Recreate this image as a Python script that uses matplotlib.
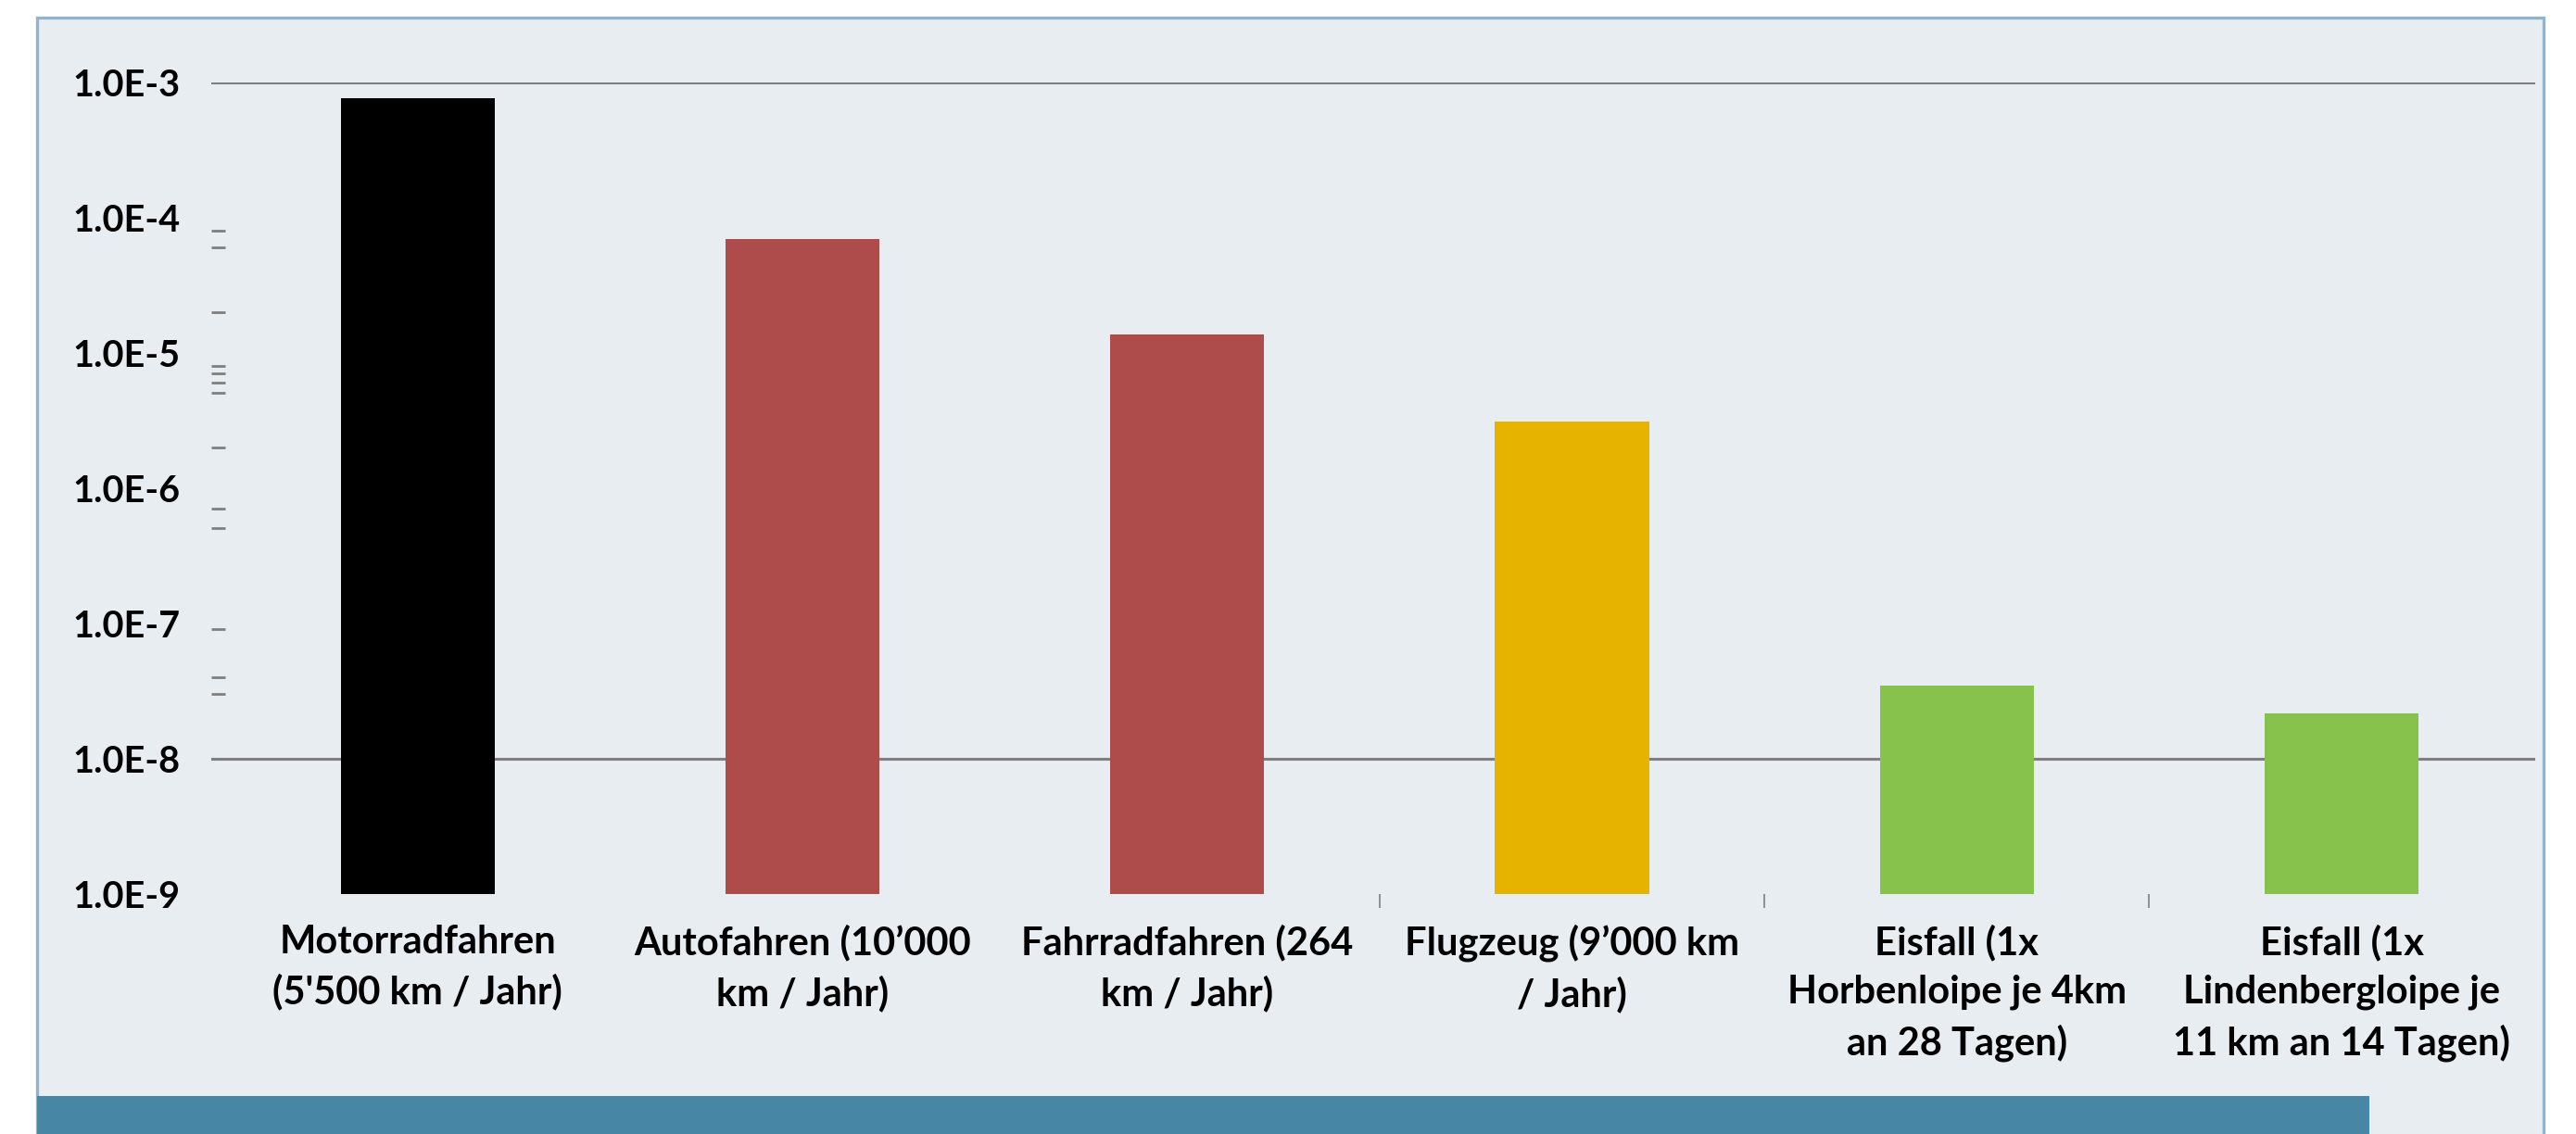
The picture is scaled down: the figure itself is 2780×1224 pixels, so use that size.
import math
import matplotlib
matplotlib.use("Agg")
import matplotlib.pyplot as plt
import matplotlib.ticker as mticker
from matplotlib.patches import Rectangle

plt.rcParams['font.family'] = ['Lato', 'DejaVu Sans']
plt.rcParams['font.weight'] = 'bold'

# Todesrisiko pro Person und Jahr
categories = [
    "Motorradfahren\n(5'500 km / Jahr)",
    "Autofahren (10\u2019000\nkm / Jahr)",
    "Fahrradfahren (264\nkm / Jahr)",
    "Flugzeug (9\u2019000 km\n/ Jahr)",
    "Eisfall (1x\nHorbenloipe je 4km\nan 28 Tagen)",
    "Eisfall (1x\nLindenbergloipe je\n11 km an 14 Tagen)",
]
risk = [7.6e-4, 6.9e-5, 1.36e-5, 3.09e-6, 3.45e-8, 2.15e-8]
bar_colors = ['#000000', '#AE4B4B', '#AE4B4B', '#E6B400', '#86C24C', '#86C24C']

y_major = [1e-9, 1e-8, 1e-7, 1e-6, 1e-5, 1e-4, 1e-3]
y_minor = [8e-5, 6e-5, 2e-5, 8e-6, 7e-6, 6e-6, 5e-6, 2e-6, 7e-7, 5e-7,
           9e-8, 4e-8, 3e-8]
grid_at = [1e-3, 1e-8]
x_minor = [2.5, 3.5, 4.5]

W, H = 2780, 1224
fig = plt.figure(figsize=(W / 100, H / 100), dpi=100)
fig.patch.set_facecolor('white')

# Hintergrund mit Rahmen
fig.patches.append(Rectangle((40 / W, -0.05), (2745 - 40) / W, (H - 19) / H + 0.05,
                             transform=fig.transFigure, facecolor='#E8EDF2',
                             edgecolor='#94B3CB', linewidth=2.4, zorder=-2))
# blaues Band unten
fig.patches.append(Rectangle((40 / W, 0), (2557 - 40) / W, (H - 1183) / H,
                             transform=fig.transFigure, facecolor='#4786A4',
                             edgecolor='none', zorder=-1))

left, right, top, bottom = 228, 2736, 88.5, 964.5
ax = fig.add_axes([left / W, 1 - bottom / H, (right - left) / W, (bottom - top) / H])
ax.set_facecolor('none')
ax.set_zorder(1)

x = list(range(len(categories)))
for g in grid_at:
    ax.axhline(g, color='#7F7F7F', linewidth=2.2, zorder=1)
ax.bar(x, risk, width=0.40, color=bar_colors, zorder=2)

ax.set_yscale('log')
ax.set_ylim(1e-9, 1e-3)
ax.set_xlim(-0.536, 5.503)

ax.yaxis.set_major_locator(mticker.FixedLocator(y_major))
ax.yaxis.set_major_formatter(mticker.FuncFormatter(
    lambda v, p: "1.0E%d" % round(math.log10(v))))
ax.yaxis.set_minor_locator(mticker.FixedLocator(y_minor))
ax.yaxis.set_minor_formatter(mticker.NullFormatter())
ax.tick_params(axis='y', which='major', length=0, pad=24, labelsize=28.5,
               labelcolor='black')
ax.tick_params(axis='y', which='minor', direction='in', length=10.5, width=2.0,
               color='#7F7F7F')

ax.set_xticks(x)
ax.set_xticklabels(categories, fontsize=30, linespacing=1.45)
ax.xaxis.set_minor_locator(mticker.FixedLocator(x_minor))
ax.tick_params(axis='x', which='major', length=0, pad=24)
ax.tick_params(axis='x', which='minor', direction='out', length=11, width=1.2,
               color='#7F7F7F')

for s in ax.spines.values():
    s.set_visible(False)

fig.savefig("out.png", dpi=100)
